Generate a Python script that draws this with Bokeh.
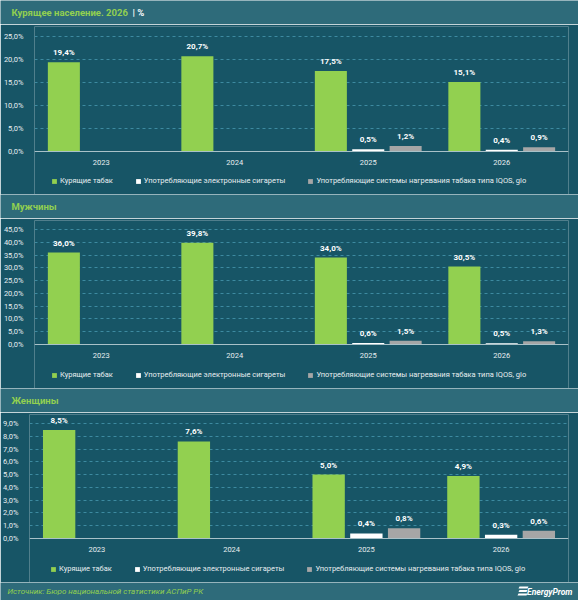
from bokeh.plotting import figure
from bokeh.models import (ColumnDataSource, FactorRange, FixedTicker, CustomJSTickFormatter,
                          Legend, LegendItem, LabelSet, Range1d, Span)
from bokeh.transform import dodge
from bokeh.core.properties import value
from bokeh.embed import file_html
from bokeh.resources import INLINE

# ---------------- data ----------------
years = ["2023", "2024", "2025", "2026"]
series_names = ["Курящие табак",
                "Употребляющие электронные сигареты",
                "Употребляющие системы нагревания табака типа IQOS, glo"]

all_smoking = [19.4, 20.7, 17.5, 15.1]
all_ecig = [None, None, 0.5, 0.4]
all_iqos = [None, None, 1.2, 0.9]

men_smoking = [36.0, 39.8, 34.0, 30.5]
men_ecig = [None, None, 0.6, 0.5]
men_iqos = [None, None, 1.5, 1.3]

women_smoking = [8.5, 7.6, 5.0, 4.9]
women_ecig = [None, None, 0.4, 0.3]
women_iqos = [None, None, 0.8, 0.6]

ticks_all = [0, 5, 10, 15, 20, 25]
ticks_men = [0, 5, 10, 15, 20, 25, 30, 35, 40, 45]
ticks_women = [0, 1, 2, 3, 4, 5, 6, 7, 8, 9]

title_main = "Курящее население. 2026"
title_unit = "| %"
title_men = "Мужчины"
title_women = "Женщины"
source_text = "Источник: Бюро национальной статистики АСПиР РК"
brand_text = "EnergyProm"

# ---------------- style ----------------
W = 578
BG = "#175566"
BAND = "#2e6b7a"
GREEN = "#92d050"
WHITE = "#ffffff"
GRAY = "#a6a6a6"
TXT = "#e8eef0"
FONT = "Roboto"
colors = [GREEN, WHITE, GRAY]
offsets = [-0.28, 0.0, 0.28]
CH_H = 170        # height of one chart block
PLOT_H = 115      # pixels between zero line and top tick
LEGEND_X = 52     # page x of the first legend swatch


def fmt(v):
    return f"{v:.1f}".replace(".", ",") + "%"


def band(height):
    p = figure(width=W, height=height, x_range=Range1d(0, W), y_range=Range1d(0, height),
               output_backend="svg", toolbar_location=None,
               x_axis_type=None, y_axis_type=None,
               min_border_left=0, min_border_right=0, min_border_top=0, min_border_bottom=0)
    p.grid.visible = False
    p.outline_line_color = None
    p.background_fill_color = BAND
    p.border_fill_color = BAND
    return p


def header(text, unit=None):
    p = band(24)
    p.text(x=[11], y=[12], text=[text], text_color=GREEN, text_font=value(FONT),
           text_font_size="9.5px", text_font_style="bold", text_baseline="middle")
    if unit:
        p.text(x=[132], y=[12], text=[unit], text_color=WHITE, text_font=value(FONT),
               text_font_size="9.5px", text_font_style="bold", text_baseline="middle")
    return p


def chart(values, ticks, left, top_pad):
    tmax = ticks[-1]
    frame_top = 2
    below = CH_H - frame_top - top_pad - PLOT_H
    p = figure(width=W, height=CH_H,
               x_range=FactorRange(*years, range_padding=0),
               y_range=Range1d(-tmax * below / PLOT_H, tmax * (PLOT_H + top_pad) / PLOT_H),
               output_backend="svg", toolbar_location=None, x_axis_location=None,
               min_border_left=left, min_border_right=10,
               min_border_top=frame_top, min_border_bottom=0)
    p.background_fill_color = BG
    p.border_fill_color = BG
    p.outline_line_color = None
    p.xgrid.visible = False
    p.ygrid.ticker = FixedTicker(ticks=ticks[1:])
    p.ygrid.grid_line_color = "#3d8aa0"
    p.ygrid.grid_line_dash = "3 3"
    p.ygrid.grid_line_width = 1

    p.yaxis.ticker = FixedTicker(ticks=ticks)
    p.yaxis.formatter = CustomJSTickFormatter(code="return tick.toFixed(1).replace('.', ',') + '%';")
    p.yaxis.axis_line_color = None
    p.yaxis.major_tick_line_color = None
    p.yaxis.minor_tick_line_color = None
    p.yaxis.major_label_text_color = TXT
    p.yaxis.major_label_text_font = FONT
    p.yaxis.major_label_text_font_size = "7.5px"
    p.yaxis.major_label_standoff = 5

    # category axis: base line and year labels
    p.add_layout(Span(location=0, dimension="width", line_color="#a9c1c8", line_width=1))
    ysrc = ColumnDataSource(dict(year=years, zero=[0] * len(years)))
    p.add_layout(LabelSet(x="year", y="zero", text="year", source=ysrc,
                          text_align="center", text_baseline="middle", y_offset=-11,
                          text_color=TXT, text_font=value(FONT), text_font_size="7.5px"))

    items = []
    for vals, col, off, name in zip(values, colors, offsets, series_names):
        xs = [y for y, v in zip(years, vals) if v is not None]
        vs = [v for v in vals if v is not None]
        src = ColumnDataSource(dict(year=xs, val=vs, lbl=[fmt(v) for v in vs]))
        r = p.vbar(x=dodge("year", off, range=p.x_range), top="val", width=0.24,
                   source=src, fill_color=col, line_color=None)
        p.add_layout(LabelSet(x=dodge("year", off, range=p.x_range), y="val", text="lbl",
                              source=src, text_align="center", text_baseline="bottom",
                              y_offset=5, text_color=WHITE, text_font=value(FONT),
                              text_font_size="8px", text_font_style="bold"))
        items.append(LegendItem(label=name, renderers=[r]))

    legend = Legend(items=items, orientation="horizontal", location=(LEGEND_X - left - 2, 9),
                    spacing=22, padding=0, margin=0, glyph_width=6, glyph_height=6,
                    label_standoff=3, label_text_color=TXT, label_text_font=FONT,
                    label_text_font_size="7.5px", background_fill_alpha=0,
                    border_line_color=None)
    p.add_layout(legend, "center")
    return p


def footer():
    p = band(18)
    p.text(x=[7], y=[9], text=[source_text], text_color=GREEN, text_font=value(FONT),
           text_font_size="8px", text_font_style="italic", text_baseline="middle")
    p.text(x=[572], y=[9], text=[brand_text], text_color=WHITE, text_font=value(FONT),
           text_font_size="8.5px", text_font_style="bold italic", text_baseline="middle",
           text_align="right")
    p.patches(xs=[[519, 528, 527, 518], [519, 527, 526, 518], [518, 527, 526, 517]],
              ys=[[14, 14, 12, 12], [10.5, 10.5, 8.5, 8.5], [7, 7, 5, 5]],
              fill_color=WHITE, line_color=None)
    return p


roots = [
    header(title_main, title_unit),
    chart([all_smoking, all_ecig, all_iqos], ticks_all, 33, 10),
    header(title_men),
    chart([men_smoking, men_ecig, men_iqos], ticks_men, 33, 9),
    header(title_women),
    chart([women_smoking, women_ecig, women_iqos], ticks_women, 29, 9),
    footer(),
]

open("out.html", "w").write(file_html(roots, INLINE))
